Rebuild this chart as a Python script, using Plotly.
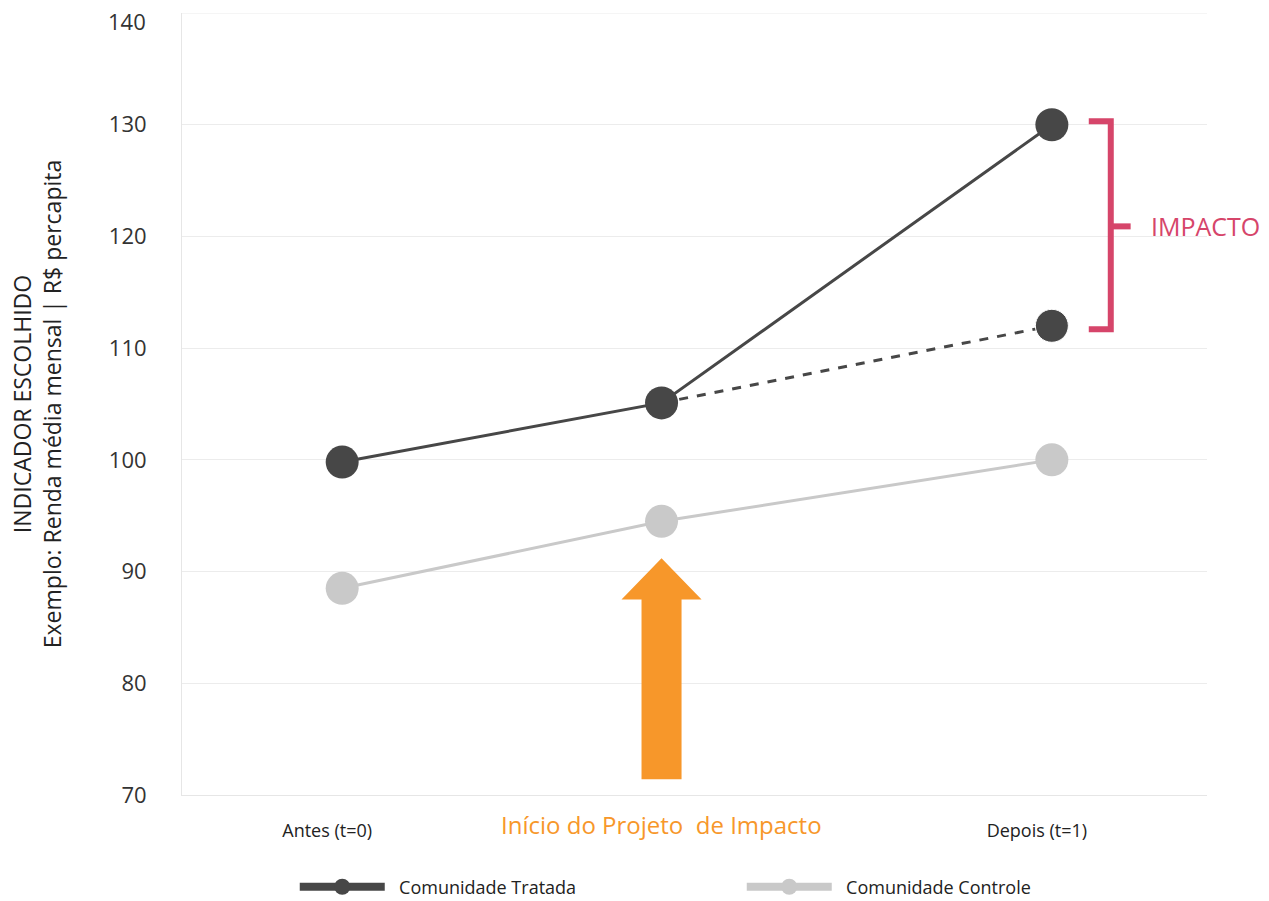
import plotly.graph_objects as go

# ---- data ----
periods_x = [0, 0.45, 1]          # Antes, Início do projeto, Depois
tick_vals = [0, 1]
tick_text = ["Antes (t=0)", "Depois (t=1)"]
tratada = [99.8, 105.1, 130.0]
controle = [88.5, 94.5, 100.0]
contrafactual_x = [0.45, 1]
contrafactual = [105.1, 112.0]
y_ticks = [70, 80, 90, 100, 110, 120, 130, 140]

DARK = "#474747"
GRAY = "#c9c9c9"
ORANGE = "#f7972a"
PINK = "#d6456a"
GRID = "#ececec"

fig = go.Figure()

fig.add_trace(go.Scatter(
    x=contrafactual_x, y=contrafactual, mode="lines+markers",
    line=dict(color=DARK, width=3, dash="dash"),
    marker=dict(size=[0, 33], color=DARK, opacity=1),
    showlegend=False, hoverinfo="skip"))

fig.add_trace(go.Scatter(
    x=periods_x, y=tratada, mode="lines+markers", name="Comunidade Tratada",
    line=dict(color=DARK, width=3), marker=dict(size=33, color=DARK),
    showlegend=False))

fig.add_trace(go.Scatter(
    x=periods_x, y=controle, mode="lines+markers", name="Comunidade Controle",
    line=dict(color=GRAY, width=3), marker=dict(size=33, color=GRAY),
    showlegend=False))

# legend-only entries (no data) with the heavier legend glyph style
fig.add_trace(go.Scatter(
    x=[None], y=[None], mode="lines+markers", name="\u00a0\u00a0Comunidade Tratada",
    line=dict(color=DARK, width=8), marker=dict(size=30, color=DARK)))
fig.add_trace(go.Scatter(
    x=[None], y=[None], mode="lines+markers", name="\u00a0\u00a0Comunidade Controle",
    line=dict(color=GRAY, width=8), marker=dict(size=30, color=GRAY)))

# top grid line and its label (at the upper end of the range)
fig.add_shape(type="line", xref="paper", yref="y", x0=0, x1=1,
              y0=y_ticks[-1], y1=y_ticks[-1], line=dict(color=GRID, width=1), layer="below")
fig.add_annotation(x=-0.033, y=y_ticks[-1], xref="paper", yref="y", text=str(y_ticks[-1]),
                   showarrow=False, xanchor="right", yanchor="middle", yshift=-8,
                   font=dict(family="Open Sans", size=22, color="#333333"))

# orange arrow (start of the project) at the middle period
xm = periods_x[1]
sw, hw = 0.0282, 0.0564
path = (f"M {xm-sw},71.4 L {xm-sw},87.5 L {xm-hw},87.5 L {xm},91.2 "
        f"L {xm+hw},87.5 L {xm+sw},87.5 L {xm+sw},71.4 Z")
fig.add_shape(type="path", path=path, xref="x", yref="y",
              fillcolor=ORANGE, line=dict(width=0), layer="above")

# impact bracket
bx0, bx1, bx2 = 1.052, 1.083, 1.111
btop, bbot, bmid = 130.3, 111.7, 120.9
fig.add_shape(type="path", xref="x", yref="y",
              path=f"M {bx0},{btop} L {bx1},{btop} L {bx1},{bbot} L {bx0},{bbot}",
              line=dict(color=PINK, width=6))
fig.add_shape(type="line", xref="x", yref="y", x0=bx1, x1=bx2, y0=bmid, y1=bmid,
              line=dict(color=PINK, width=6))
fig.add_annotation(x=1.137, y=bmid, xref="x", yref="y", text="IMPACTO",
                   showarrow=False, xanchor="left", yanchor="middle",
                   font=dict(family="Open Sans", size=25, color=PINK))

fig.add_annotation(x=xm, y=-0.038, xref="x", yref="paper",
                   text="Início do Projeto  de Impacto", showarrow=False,
                   xanchor="center", yanchor="middle",
                   font=dict(family="Open Sans", size=24, color=ORANGE))

fig.update_layout(
    width=1269, height=901,
    margin=dict(l=182, r=62, t=13, b=106, autoexpand=False),
    paper_bgcolor="white", plot_bgcolor="white",
    font=dict(family="Open Sans", color="#333333"),
    showlegend=True,
    legend=dict(orientation="h", x=0.11, y=0.0155, yref="container",
                xanchor="left", yanchor="middle",
                font=dict(size=18, color="#222222"),
                itemwidth=85, entrywidth=347, entrywidthmode="pixels",
                itemsizing="trace"),
    xaxis=dict(range=[-0.2257, 1.2186], tickvals=tick_vals, ticktext=tick_text,
               showgrid=False, zeroline=False, showline=True, linecolor="#e6e6e6",
               linewidth=1, ticks="", tickfont=dict(size=18, color="#222222"),
               ticklabelstandoff=19, ticklabelshift=-15, automargin=False),
    yaxis=dict(range=[70, 140], tickvals=y_ticks[:-1], showgrid=True, gridcolor=GRID,
               gridwidth=1, zeroline=False, showline=True, linecolor="#e6e6e6",
               linewidth=1, ticks="", tickfont=dict(size=22, color="#333333"),
               ticklabelstandoff=30, automargin=False,
               title=dict(text="INDICADOR ESCOLHIDO<br>Exemplo: Renda média mensal | R$ percapita",
                          font=dict(size=23, color="#222222"), standoff=40)),
)

fig.write_html("out.html")
